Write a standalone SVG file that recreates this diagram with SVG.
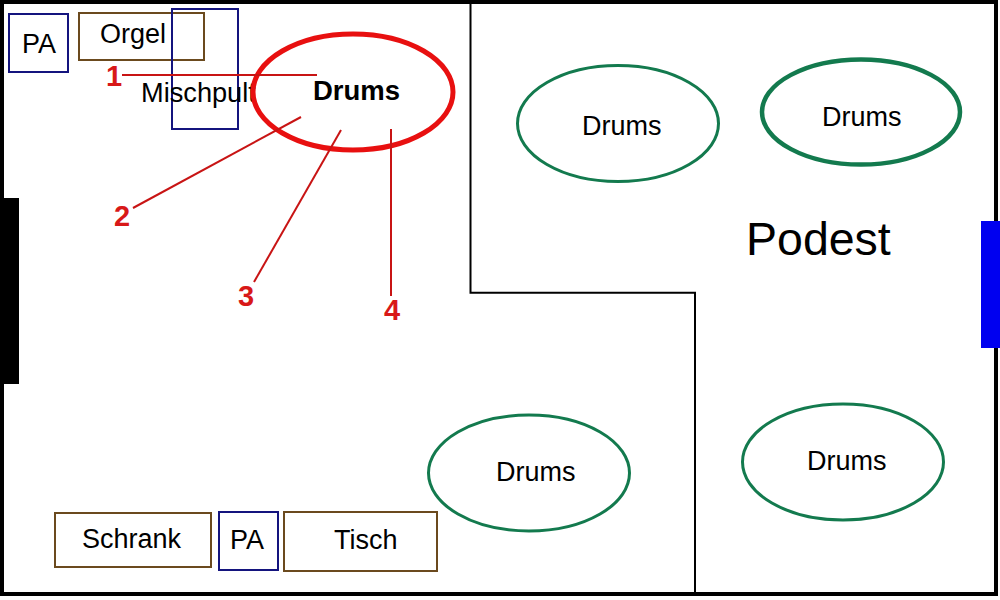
<svg xmlns="http://www.w3.org/2000/svg" width="1000" height="600" viewBox="0 0 1000 600">
<style>
text{font-family:"Liberation Sans",Arial,sans-serif;font-size:27px;fill:#000}
.box{fill:none;stroke-width:2}
.brown{stroke:#6b4a1e}
.navy{stroke:#14147e}
.green{fill:none;stroke:#137a4e;stroke-width:3}
.wall{fill:none;stroke:#000;stroke-width:2}
.lead{fill:none;stroke:#c81414;stroke-width:2}
.num{font-weight:bold;fill:#d81818;font-size:29px}
</style>
<rect width="1000" height="600" fill="#fff"/>
<g id="room">
<rect x="2" y="2" width="994" height="592" fill="none" stroke="#000" stroke-width="4"/>
<path class="wall" d="M470.500 3V292.800H695V594"/>
<rect x="0" y="198" width="19" height="186" fill="#000"/>
<rect x="981" y="221" width="19" height="127" fill="#0000f0"/>
</g>
<g id="pa-top"><rect class="box navy" x="9" y="14" width="59" height="58"/><text x="22" y="53">PA</text></g>
<g id="orgel"><rect class="box brown" x="79" y="13" width="125" height="47"/><text x="100" y="43">Orgel</text></g>
<g id="mischpult"><rect class="box navy" x="172" y="9" width="66" height="120"/><text x="141" y="102" style="font-size:27.200px">Mischpult</text></g>
<g id="drums-red"><ellipse cx="353" cy="92" rx="100" ry="58" fill="none" stroke="#e81010" stroke-width="5"/><text x="313" y="100" font-weight="bold" style="font-size:27.500px">Drums</text></g>
<g id="drums-1"><ellipse class="green" cx="618" cy="123.500" rx="100.500" ry="58"/><text x="582" y="135">Drums</text></g>
<g id="drums-2"><ellipse class="green" cx="861" cy="112" rx="99" ry="52.500" style="stroke-width:4.500"/><text x="822" y="126">Drums</text></g>
<g id="drums-3"><ellipse class="green" cx="529" cy="473" rx="100.500" ry="58"/><text x="496" y="481">Drums</text></g>
<g id="drums-4"><ellipse class="green" cx="843" cy="462" rx="100.500" ry="58"/><text x="807" y="470">Drums</text></g>
<g id="podest"><text x="746" y="255" style="font-size:46.500px">Podest</text></g>
<g id="schrank"><rect class="box brown" x="55" y="513" width="156" height="54"/><text x="82" y="548">Schrank</text></g>
<g id="pa-bottom"><rect class="box navy" x="219" y="512" width="59" height="58"/><text x="230" y="549">PA</text></g>
<g id="tisch"><rect class="box brown" x="284" y="512" width="153" height="59"/><text x="334" y="549">Tisch</text></g>
<g id="connectors">
<line class="lead" x1="122" y1="75" x2="317" y2="75"/>
<line class="lead" x1="133" y1="208" x2="301" y2="117"/>
<line class="lead" x1="254" y1="282" x2="341" y2="130"/>
<line class="lead" x1="391" y1="129" x2="391" y2="296"/>
</g>
<g id="labels">
<text class="num" x="106" y="86">1</text>
<text class="num" x="114" y="226">2</text>
<text class="num" x="238" y="306">3</text>
<text class="num" x="384" y="320">4</text>
</g>
</svg>
